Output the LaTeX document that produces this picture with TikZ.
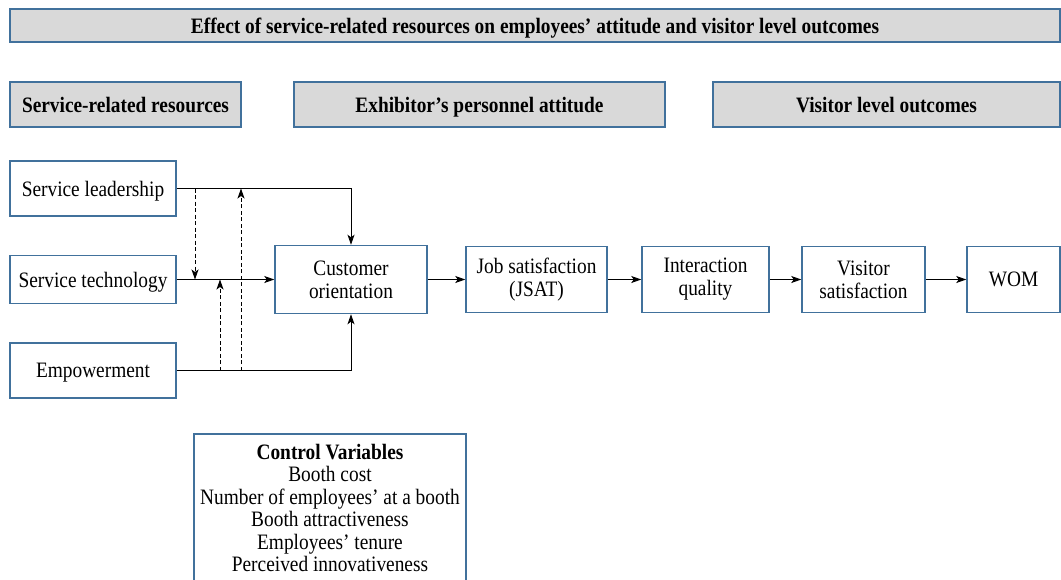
\documentclass[tikz,border=0pt]{standalone}
\usepackage{fontspec}
\setmainfont[FakeStretch=0.88]{Liberation Serif}
\usetikzlibrary{arrows.meta}
\definecolor{boxblue}{RGB}{65,113,156}
\definecolor{headgray}{RGB}{217,217,217}
\begin{document}
\begin{tikzpicture}[x=1pt,y=-1pt,
  box/.style={draw=boxblue,line width=1.5pt,fill=white,inner sep=0pt,align=center,
    font=\fontsize{22}{23}\selectfont},
  oneline/.style={text depth=0pt},
  headbox/.style={box,oneline,fill=headgray,font=\fontsize{22}{23}\selectfont\bfseries},
  conn/.style={line width=0.9pt,-{Stealth[length=10pt,width=7pt,inset=2.5pt]}},
  dconn/.style={conn,dash pattern=on 4pt off 2.5pt}]
\useasboundingbox (0,0) rectangle (1061,579);
\clip (0,0) rectangle (1061,579);
\fill[white] (0,0) rectangle (1061,579);

% headings
\node[headbox,minimum width=1050,minimum height=33] (title) at (535,25.5)
  {Effect of service-related resources on employees’ attitude and visitor level outcomes};
\node[headbox,minimum width=231,minimum height=45] (h1) at (125.5,104.5) {Service-related resources};
\node[headbox,minimum width=371,minimum height=45] (h2) at (479.5,104.5) {Exhibitor’s personnel attitude};
\node[headbox,minimum width=347,minimum height=45] (h3) at (886.5,104.5) {Visitor level outcomes};

% resources
\node[box,oneline,minimum width=166,minimum height=55] (sl) at (93,188.5) {Service leadership};
\node[box,oneline,minimum width=166,minimum height=48] (st) at (93,279.5) {Service technology};
\node[box,oneline,minimum width=166,minimum height=55] (em) at (93,370.5) {Empowerment};

% chain of outcomes
\node[box,minimum width=152,minimum height=68] (co) at (351,279.5) {Customer\\orientation};
\node[box,minimum width=141,minimum height=66] (js) at (536.5,279.5) {Job satisfaction\\(JSAT)};
\node[box,minimum width=127,minimum height=66] (iq) at (705.5,279.5) {Interaction\\quality};
\node[box,minimum width=123,minimum height=66] (vs) at (863.5,279.5) {Visitor\\satisfaction};
\node[box,oneline,minimum width=93,minimum height=66] (wom) at (1013.5,279.5) {WOM};

% control variables
\node[box,minimum width=272,minimum height=148,font=\fontsize{22}{22.4}\selectfont] (cv) at (330,508)
  {\textbf{Control Variables}\\Booth cost\\Number of employees’ at a booth\\Booth attractiveness\\Employees’ tenure\\Perceived innovativeness};

% direct effects
\draw[conn] (sl.east) -| (co.north);
\draw[conn] (st.east) -- (co.west);
\draw[conn] (em.east) -| (co.south);
\draw[conn] (co.east) -- (js.west);
\draw[conn] (js.east) -- (iq.west);
\draw[conn] (iq.east) -- (vs.west);
\draw[conn] (vs.east) -- (wom.west);

% interaction effects
\coordinate (m1) at (195,0);
\coordinate (m2) at (220,0);
\coordinate (m3) at (241,0);
\draw[dconn] (m1 |- sl.east) -- (m1 |- st.east);
\draw[dconn] (m2 |- em.east) -- (m2 |- st.east);
\draw[dconn] (m3 |- em.east) -- (m3 |- sl.east);
\end{tikzpicture}
\end{document}
